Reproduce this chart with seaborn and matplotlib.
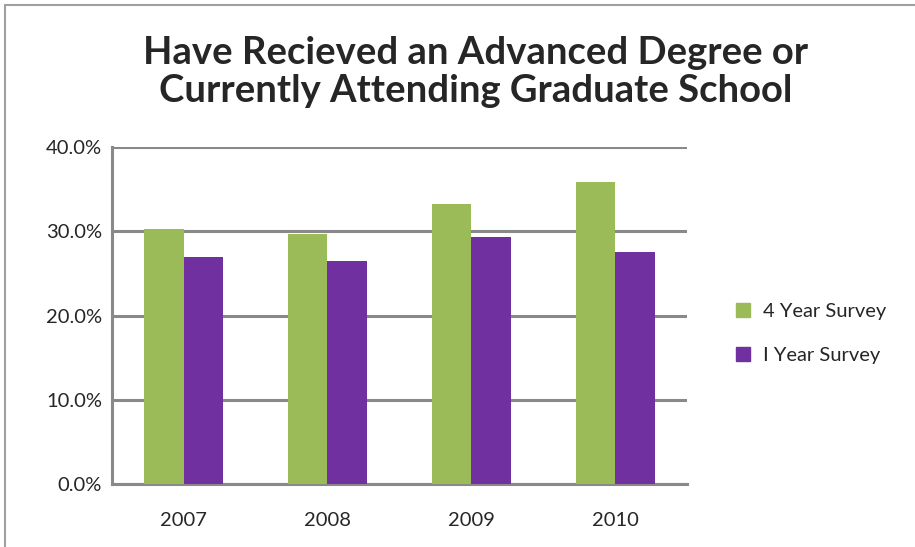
import matplotlib
matplotlib.use("Agg")
import matplotlib.pyplot as plt
from matplotlib.patches import Rectangle
import pandas as pd
import seaborn as sns

years = ["2007", "2008", "2009", "2010"]
four_year = [30.3, 29.7, 33.3, 35.9]
one_year = [26.9, 26.5, 29.3, 27.6]
series = ["4 Year Survey", "1 Year Survey"]
colors = ["#9BBB59", "#7030A0"]

df = pd.DataFrame({
    "year": years * 2,
    "value": four_year + one_year,
    "survey": [series[0]] * 4 + [series[1]] * 4,
})

sns.set_style("white")
plt.rcParams["font.family"] = ["Lato", "DejaVu Sans"]

fig = plt.figure(figsize=(9.15, 5.47), dpi=100)
ax = fig.add_axes([0.122, 0.115, 0.629, 0.616])

sns.barplot(data=df, x="year", y="value", hue="survey", palette=colors,
            width=0.55, saturation=1, ax=ax, legend=False, zorder=3,
            linewidth=0)

ax.set_xlim(-0.5, 3.5)
ax.set_ylim(0, 40)
ax.set_yticks([0, 10, 20, 30, 40])
ax.set_yticklabels([f"{v:.1f}%" for v in [0, 10, 20, 30, 40]])
ax.yaxis.grid(True, color="#898989", linewidth=2.2, zorder=0)
ax.set_axisbelow(True)
ax.set_xlabel("")
ax.set_ylabel("")
ax.tick_params(axis="both", labelsize=14.5, length=0)
ax.tick_params(axis="x", pad=20)
ax.tick_params(axis="y", pad=7)
for side in ["top", "right"]:
    ax.spines[side].set_visible(False)
for side in ["left", "bottom"]:
    ax.spines[side].set_color("#898989")
    ax.spines[side].set_linewidth(2.2)

fig.text(0.52, 0.868, "Have Recieved an Advanced Degree or\nCurrently Attending Graduate School",
         ha="center", va="center", fontsize=27.5, fontweight="bold", linespacing=1.15)

handles = [Rectangle((0, 0), 1, 1, color=c) for c in colors]
fig.legend(handles, ["4 Year Survey", "I Year Survey"], loc="center left",
           bbox_to_anchor=(0.785, 0.390), frameon=False, fontsize=14.5,
           handlelength=0.7, handleheight=0.7, labelspacing=1.35, handletextpad=0.6)

fig.patches.append(Rectangle((0.006, -0.01), 1.1, 1.0, transform=fig.transFigure,
                             fill=False, edgecolor="#a0a0a0", linewidth=1.5))

fig.savefig("out.png", dpi=100)
